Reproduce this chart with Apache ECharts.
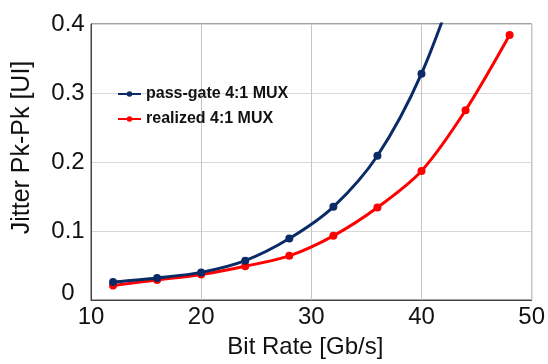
<!DOCTYPE html>
<html>
<head>
<meta charset="utf-8">
<script src="https://cdn.jsdelivr.net/npm/echarts@6/dist/echarts.min.js"></script>
<style>
  html, body { margin: 0; padding: 0; background: #fff; }
  #chart { width: 548px; height: 364px; }
</style>
</head>
<body>
<div id="chart"></div>
<script>
// bit rate [Gb/s]
let passGateX = [12, 16, 20, 24, 28, 32, 36, 40, 44];
let passGateY = [0.026, 0.032, 0.040, 0.057, 0.089, 0.135, 0.209, 0.328, 0.50];
let realizedX = [12, 16, 20, 24, 28, 32, 36, 40, 44, 48];
let realizedY = [0.021, 0.029, 0.037, 0.049, 0.064, 0.093, 0.134, 0.187, 0.275, 0.384];
let seriesNames = ['pass-gate 4:1 MUX', 'realized 4:1 MUX'];

let zip = function (xs, ys) {
  return xs.map(function (x, i) { return [x, ys[i]]; });
};

let chart = echarts.init(document.getElementById('chart'));
let font = 'Liberation Sans, Arial, sans-serif';

chart.setOption({
  backgroundColor: '#fff',
  animation: false,
  grid: {
    left: 91, right: 13, top: 24, bottom: 64,
    show: true,
    borderColor: '#444',
    borderWidth: 1
  },
  legend: {
    left: 112,
    top: 81,
    orient: 'vertical',
    itemWidth: 23,
    itemHeight: 7,
    itemGap: 9,
    textStyle: { fontFamily: font, fontWeight: 'bold', fontSize: 16, color: '#111' },
    data: seriesNames
  },
  xAxis: {
    type: 'value',
    min: 10, max: 50, interval: 10,
    name: 'Bit Rate [Gb/s]',
    nameLocation: 'middle',
    nameGap: 35,
    nameTextStyle: { fontFamily: font, fontSize: 24, color: '#111', padding: [0, 12, 0, 0] },
    axisLine: { show: true, lineStyle: { color: '#444' } },
    axisTick: { show: false },
    axisLabel: { fontFamily: font, fontSize: 24, color: '#111', margin: 5 },
    splitLine: { show: true, lineStyle: { color: '#c4c4c4' } }
  },
  yAxis: {
    type: 'value',
    min: 0, max: 0.4, interval: 0.1,
    name: 'Jitter Pk-Pk [UI]',
    nameLocation: 'middle',
    nameGap: 56,
    nameTextStyle: { fontFamily: font, fontSize: 25, color: '#111', padding: [0, 0, 0, 29] },
    axisLine: { show: true, lineStyle: { color: '#444' } },
    axisTick: { show: false },
    axisLabel: {
      fontFamily: font, fontSize: 24, color: '#111',
      align: 'center', margin: 23,
      formatter: function (v) {
        if (v === 0) return '{z|0}';
        return v.toFixed(1);
      },
      rich: { z: { fontFamily: font, fontSize: 24, color: '#111', padding: [0, 0, 14, 0] } }
    },
    splitLine: { show: true, lineStyle: { color: '#d8d8d8' } }
  },
  series: [
    {
      name: seriesNames[0],
      type: 'line',
      smooth: 0.3,
      clip: true,
      symbol: 'circle',
      symbolSize: 8,
      color: '#0a2b66',
      lineStyle: { width: 3 },
      z: 3,
      data: zip(passGateX, passGateY)
    },
    {
      name: seriesNames[1],
      type: 'line',
      smooth: 0.3,
      clip: true,
      symbol: 'circle',
      symbolSize: 8,
      color: '#ff0000',
      lineStyle: { width: 3 },
      z: 2,
      data: zip(realizedX, realizedY)
    }
  ]
});
</script>
</body>
</html>
